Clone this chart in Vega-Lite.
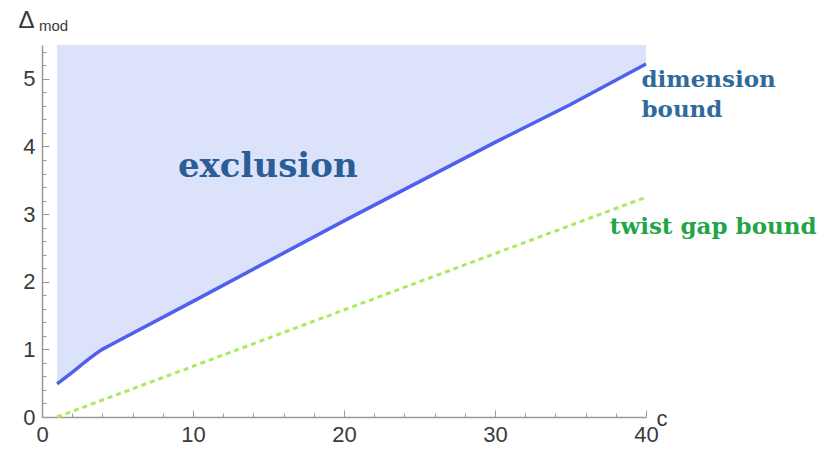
{
  "$schema": "https://vega.github.io/schema/vega-lite/v6.json",
  "width": 604,
  "height": 372,
  "autosize": {"type": "none"},
  "padding": {"left": 42, "top": 45, "right": 179, "bottom": 33},
  "background": "white",
  "config": {"view": {"stroke": null}, "axis": {"grid": false, "zindex": 1, "labelFont": "Liberation Sans", "titleFont": "Liberation Sans", "domainColor": "#9a9a9a", "tickColor": "#9a9a9a", "labelColor": "#3a3a3a", "titleColor": "#3a3a3a", "titleFontWeight": "normal", "labelOverlap": false}},
  "datasets": {
    "dim": [
      {"c": 1, "d": 0.49},
      {"c": 2, "d": 0.66},
      {"c": 3, "d": 0.84},
      {"c": 3.6, "d": 0.94},
      {"c": 4, "d": 1.0},
      {"c": 4.5, "d": 1.06},
      {"c": 5, "d": 1.12},
      {"c": 10, "d": 1.71},
      {"c": 20, "d": 2.9},
      {"c": 30, "d": 4.06},
      {"c": 35, "d": 4.62},
      {"c": 40, "d": 5.22}
    ],
    "twist": [
      {"c": 1, "t": 0},
      {"c": 40, "t": 3.25}
    ]
  },
  "layer": [
    {
      "data": {"name": "dim"},
      "mark": {"type": "area", "color": "#dde2fb", "opacity": 1},
      "encoding": {
        "x": {"field": "c", "type": "quantitative", "scale": {"domain": [0, 40], "nice": false},
              "axis": {"values": [0,2,4,6,8,10,12,14,16,18,20,22,24,26,28,30,32,34,36,38,40],
                       "tickCount": 200,
                       "labelExpr": "datum.value % 10 === 0 ? toString(datum.value) : ''",
                       "labelOverlap": false,
                       "tickSize": {"condition": {"test": "datum.value % 10 === 0", "value": -7}, "value": -4},
                       "labelPadding": 14, "labelFontSize": 22, "labelFlush": false,
                       "title": "c", "titleFontSize": 22, "titleAngle": 0, "titleX": 614, "titleY": 8, "titleAlign": "left", "titleBaseline": "alphabetic", "domainWidth": 1.5}},
        "y": {"field": "d", "type": "quantitative", "scale": {"domain": [0, 5.5], "nice": false},
              "axis": {"values": [0,0.2,0.4,0.6,0.8,1,1.2,1.4,1.6,1.8,2,2.2,2.4,2.6,2.8,3,3.2,3.4,3.6,3.8,4,4.2,4.4,4.6,4.8,5,5.2,5.4],
                       "tickCount": 200,
                       "labelExpr": "abs(datum.value - round(datum.value)) < 0.01 ? toString(round(datum.value)) : ''",
                       "labelOverlap": false,
                       "tickSize": {"condition": {"test": "abs(datum.value - round(datum.value)) < 0.01", "value": -7}, "value": -4},
                       "labelPadding": 14, "labelFontSize": 22,
                       "title": "Δ", "titleFontSize": 24, "titleAngle": 0, "titleX": -24, "titleY": -18, "titleAlign": "left", "titleBaseline": "alphabetic", "domainWidth": 1.5}},
        "y2": {"datum": 5.5}
      }
    },
    {
      "data": {"name": "twist"},
      "mark": {"type": "line", "color": "#a8ec5e", "strokeWidth": 3, "strokeDash": [5, 4]},
      "encoding": {
        "x": {"field": "c", "type": "quantitative"},
        "y": {"field": "t", "type": "quantitative"}
      }
    },
    {
      "data": {"name": "dim"},
      "mark": {"type": "line", "color": "#4f5fee", "strokeWidth": 3.5},
      "encoding": {
        "x": {"field": "c", "type": "quantitative"},
        "y": {"field": "d", "type": "quantitative"}
      }
    },
    {
      "data": {"values": [{"c": 9.0, "v": 3.55, "label": "exclusion"}]},
      "mark": {"type": "text", "font": "DejaVu Serif", "fontSize": 34, "fontWeight": "bold", "color": "#2b5d96", "align": "left", "baseline": "alphabetic"},
      "encoding": {
        "x": {"field": "c", "type": "quantitative"},
        "y": {"field": "v", "type": "quantitative"},
        "text": {"field": "label"}
      }
    },
    {
      "data": {"values": [{"c": 39.7, "v": 4.88, "label": "dimension"}, {"c": 39.7, "v": 4.44, "label": "bound"}]},
      "mark": {"type": "text", "font": "DejaVu Serif", "fontSize": 23, "fontWeight": "bold", "color": "#2f6a9a", "align": "left", "baseline": "alphabetic", "clip": false},
      "encoding": {
        "x": {"field": "c", "type": "quantitative"},
        "y": {"field": "v", "type": "quantitative"},
        "text": {"field": "label"}
      }
    },
    {
      "data": {"values": [{"c": 37.6, "v": 2.7, "label": "twist gap bound"}]},
      "mark": {"type": "text", "font": "DejaVu Serif", "fontSize": 23, "fontWeight": "bold", "color": "#22a447", "align": "left", "baseline": "alphabetic", "clip": false},
      "encoding": {
        "x": {"field": "c", "type": "quantitative"},
        "y": {"field": "v", "type": "quantitative"},
        "text": {"field": "label"}
      }
    },
    {
      "data": {"values": [{"c": -0.2, "v": 5.71, "label": "mod"}]},
      "mark": {"type": "text", "font": "Liberation Sans", "fontSize": 15, "color": "#3a3a3a", "align": "left", "baseline": "alphabetic", "clip": false},
      "encoding": {
        "x": {"field": "c", "type": "quantitative"},
        "y": {"field": "v", "type": "quantitative"},
        "text": {"field": "label"}
      }
    }
  ]
}
